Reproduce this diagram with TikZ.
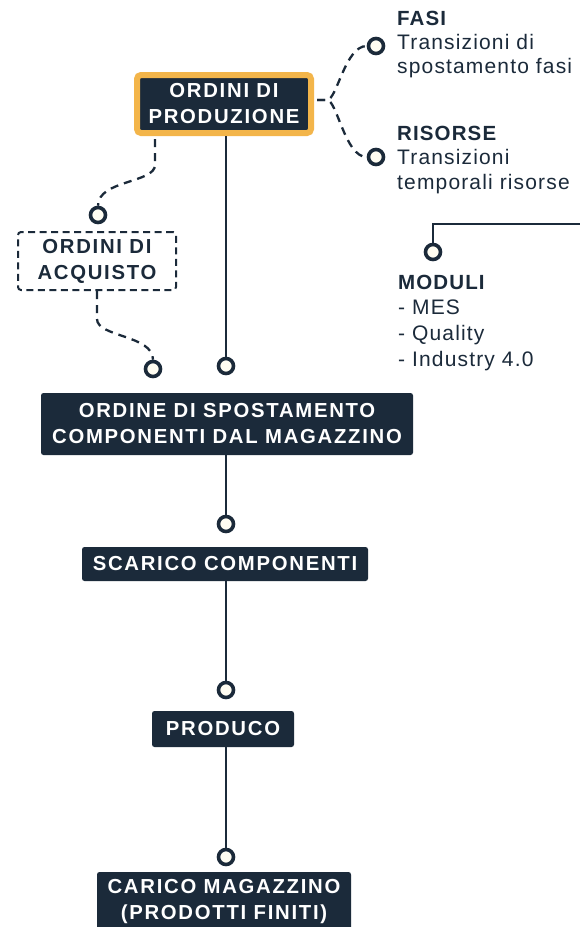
\documentclass[tikz,border=0pt]{standalone}
\usepackage{fontspec}
\setmainfont{Liberation Sans}
\newfontfamily\bodyfont{Liberation Sans}[LetterSpace=5.5]
\newfontfamily\boxfont{Liberation Sans}[LetterSpace=8.5]
\usetikzlibrary{calc}
\definecolor{dk}{HTML}{1B2A3A}
\definecolor{orng}{HTML}{F3B54A}
\definecolor{cream}{HTML}{FFFDF2}
\tikzset{
  darkbox/.style={fill=dk, text=white, rounded corners=2.5pt, inner sep=0pt, align=center,
    font=\boxfont\bfseries\fontsize{20.3}{26}\selectfont},
  dashbox/.style={draw=dk, line width=2pt, dash pattern=on 7pt off 4.5pt, rounded corners=3pt, text=dk, inner sep=0pt, align=center,
    font=\boxfont\bfseries\fontsize{20.3}{26}\selectfont},
  dot/.style={circle, draw=dk, fill=cream, line width=3.6pt, minimum size=15pt, inner sep=0pt},
  solidline/.style={draw=dk, line width=2.4pt},
  dashline/.style={draw=dk, line width=2.3pt, dash pattern=on 8pt off 6pt},
  head/.style={anchor=base west, inner sep=0pt, text=dk, font=\bodyfont\bfseries\fontsize{20.5}{24}\selectfont},
  body/.style={anchor=base west, inner sep=0pt, text=dk, font=\bodyfont\fontsize{21}{24}\selectfont},
}
\begin{document}
\begin{tikzpicture}[x=1pt,y=-1pt]
\useasboundingbox[fill=white] (0,0) rectangle (580,927);

% boxes
\node[darkbox, draw=orng, line width=6pt, rounded corners=4pt, minimum width=174pt, minimum height=58pt] (pro) at (224,104) {ORDINI DI\\PRODUZIONE};
\node[dashbox, minimum width=158pt, minimum height=58pt] (acq) at (97,261) {ORDINI DI\\ACQUISTO};
\node[darkbox, minimum width=372pt, minimum height=62pt] (osp) at (227,424) {ORDINE DI SPOSTAMENTO\\COMPONENTI DAL MAGAZZINO};
\node[darkbox, minimum width=286pt, minimum height=34pt] (sca) at (225,564) {SCARICO COMPONENTI};
\node[darkbox, minimum width=142pt, minimum height=36pt] (prd) at (223,729) {PRODUCO};
\node[darkbox, minimum width=254pt, minimum height=60pt] (car) at (224,902) {CARICO MAGAZZINO\\(PRODOTTI FINITI)};

% dots
\node[dot] (dfasi) at (376,46) {};
\node[dot] (dris) at (376,157) {};
\node[dot] (dacq) at (98,215) {};
\node[dot] (dacq2) at (153,369) {};
\node[dot] (dmain) at (226,366) {};
\node[dot] (dsca) at (226,524) {};
\node[dot] (dprd) at (226,690) {};
\node[dot] (dcar) at (226,857) {};
\node[dot] (dmod) at (433,252) {};
\coordinate (modstart) at (580,224);

% connectors
\draw[solidline] (pro.south -| dmain) -- (dmain.north);
\draw[solidline] (osp.south -| dsca) -- (dsca.north);
\draw[solidline] (sca.south -| dprd) -- (dprd.north);
\draw[solidline] (prd.south -| dcar) -- (dcar.north);
\draw[solidline] (modstart) -- (433,224) -- (dmod.north);

\coordinate (pe) at ($(pro.east)+(3,-4)$);
\draw[dashline] (pe) -- ++(10,0) .. controls +(10,0) and (345,46) .. (dfasi.west);
\draw[dashline] (pe) -- ++(10,0) .. controls +(10,0) and (345,157) .. (dris.west);
\coordinate (ps) at ($(pro.south west)+(21,3)$);
\draw[dashline] (ps) -- ++(0,26) .. controls +(0,18) and (98,180) .. (dacq.north);
\draw[dashline] (acq.south) -- ++(0,28) .. controls +(0,18) and (153,335) .. (dacq2.north);

% texts
\node[head] (tfasi) at (397,25) {FASI};
\node[body] (tfasi1) at (397,49) {Transizioni di};
\node[body] (tfasi2) at (397,73) {spostamento fasi};
\node[head] (tris) at (397,140) {RISORSE};
\node[body] (tris1) at (397,164) {Transizioni};
\node[body] (tris2) at (397,189) {temporali risorse};
\node[head] (tmod) at (398,289) {MODULI};
\node[body] (tmod1) at (398,314) {- MES};
\node[body] (tmod2) at (398,340) {- Quality};
\node[body] (tmod3) at (398,366) {- Industry 4.0};
\end{tikzpicture}
\end{document}
